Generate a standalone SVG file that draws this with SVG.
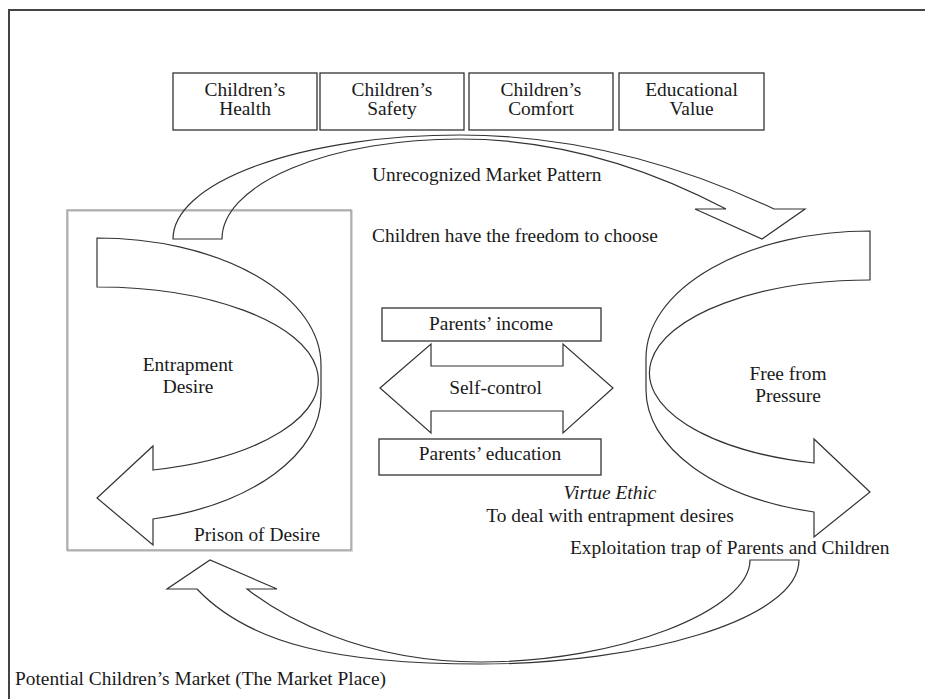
<svg xmlns="http://www.w3.org/2000/svg" width="925" height="699" viewBox="0 0 925 699">
<style>
text{font-family:"Liberation Serif","Times New Roman",serif;font-size:19.4px;fill:#1a1a1a}
.c{text-anchor:middle}
.box{fill:#fff;stroke:#333;stroke-width:1.3}
.arr{fill:none;stroke:#333;stroke-width:1.2;stroke-linejoin:miter}
.it{font-style:italic}
</style>
<rect width="925" height="699" fill="#fff"/>
<rect x="9" y="10" width="930" height="700" fill="none" stroke="#444" stroke-width="2"/>

<g id="frame-label">
<text x="15" y="685">Potential Children’s Market (The Market Place)</text>
</g>

<g id="prison-box">
<rect x="68" y="211" width="284" height="340" fill="none" stroke="#d8d8d8" stroke-width="2"/>
<rect x="67" y="210" width="284" height="340" fill="none" stroke="#9a9a9a" stroke-width="1.3"/>
</g>

<g id="connectors">
<path class="arr" d="M173,239 A287,104 0 0 1 460,135 Q617,135 774,209 L805,209 L762,239 L695,209 L726,209 Q593,139 460,139 A238,100 0 0 0 222,239 Z"/>
<path class="arr" d="M97,238 A224,127 0 0 1 321,365 L321,397 A224,126 0 0 1 153,519 L153,545 L97,498 L153,446 L153,470 A221,93 0 0 0 97,287 Z"/>
<path class="arr" d="M870,231 A224,127 0 0 0 646,358 L646,390 A224,126 0 0 0 814,512 L814,537 L870,492 L814,439 L814,463 A220,93 0 0 1 870,280 Z"/>
<path class="arr" d="M799,560 C799,620 640,664 480,664 C340,664 250,645 197,589 L167,589 L210,560 L277,589 L247,589 C280,615 360,662 480,662 C620,662 750,610 750,560 Z"/>
</g>

<g id="health"><rect class="box" x="173" y="73" width="144" height="57"/><text class="c" x="245" y="96">Children’s</text><text class="c" x="245" y="115">Health</text></g>
<g id="safety"><rect class="box" x="320" y="73" width="144" height="57"/><text class="c" x="392" y="96">Children’s</text><text class="c" x="392" y="115">Safety</text></g>
<g id="comfort"><rect class="box" x="469" y="73" width="144" height="57"/><text class="c" x="541" y="96">Children’s</text><text class="c" x="541" y="115">Comfort</text></g>
<g id="edu-value"><rect class="box" x="619" y="73" width="145" height="57"/><text class="c" x="691.5" y="96">Educational</text><text class="c" x="691.5" y="115">Value</text></g>

<g id="unrecognized"><text x="372" y="181">Unrecognized Market Pattern</text></g>
<g id="freedom"><text x="372" y="242">Children have the freedom to choose</text></g>

<g id="entrapment"><text class="c" x="188" y="371">Entrapment</text><text class="c" x="188" y="393">Desire</text></g>
<g id="prison"><text x="194" y="541">Prison of Desire</text></g>

<g id="income"><rect class="box" x="382" y="308" width="219" height="33"/><text class="c" x="491" y="330">Parents’ income</text></g>
<g id="self-control">
<path class="arr" d="M380,388 L431,344 L431,366 L563,366 L563,344 L613,388 L563,433 L563,411 L431,411 L431,433 Z"/>
<text class="c" x="495.5" y="394">Self-control</text>
</g>
<g id="education"><rect class="box" x="379" y="439" width="222" height="36"/><text class="c" x="490" y="460">Parents’ education</text></g>

<g id="free"><text class="c" x="788" y="380">Free from</text><text class="c" x="788" y="402">Pressure</text></g>
<g id="virtue"><text class="c it" x="610" y="499">Virtue Ethic</text><text class="c" x="610" y="522">To deal with entrapment desires</text></g>
<g id="exploitation"><text x="570" y="553.5">Exploitation trap of Parents and Children</text></g>
</svg>
